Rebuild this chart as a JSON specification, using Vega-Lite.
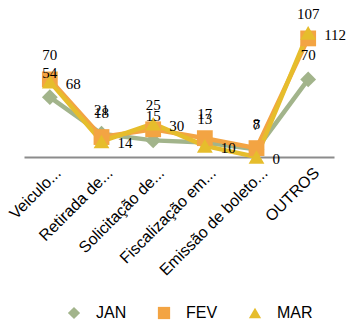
{
  "$schema": "https://vega.github.io/schema/vega-lite/v6.json",
  "autosize": "none",
  "width": 310,
  "height": 133,
  "padding": {"left": 24, "top": 24, "right": 12, "bottom": 167},
  "background": "white",
  "config": {"view": {"stroke": null}},
  "data": {
    "values": [
      {"cat": "Veiculo...", "serie": "JAN", "v": 54},
      {"cat": "Retirada de...", "serie": "JAN", "v": 21},
      {"cat": "Solicitação de...", "serie": "JAN", "v": 15},
      {"cat": "Fiscalização em...", "serie": "JAN", "v": 13},
      {"cat": "Emissão de boleto...", "serie": "JAN", "v": 7},
      {"cat": "OUTROS", "serie": "JAN", "v": 70},
      {"cat": "Veiculo...", "serie": "FEV", "v": 70},
      {"cat": "Retirada de...", "serie": "FEV", "v": 18},
      {"cat": "Solicitação de...", "serie": "FEV", "v": 25},
      {"cat": "Fiscalização em...", "serie": "FEV", "v": 17},
      {"cat": "Emissão de boleto...", "serie": "FEV", "v": 8},
      {"cat": "OUTROS", "serie": "FEV", "v": 107},
      {"cat": "Veiculo...", "serie": "MAR", "v": 68},
      {"cat": "Retirada de...", "serie": "MAR", "v": 14},
      {"cat": "Solicitação de...", "serie": "MAR", "v": 30},
      {"cat": "Fiscalização em...", "serie": "MAR", "v": 10},
      {"cat": "Emissão de boleto...", "serie": "MAR", "v": 0},
      {"cat": "OUTROS", "serie": "MAR", "v": 112}
    ]
  },
  "encoding": {
    "x": {
      "field": "cat",
      "type": "nominal",
      "sort": null,
      "scale": {"type": "point", "padding": 0.5},
      "axis": {
        "title": null,
        "domainColor": "#8c8c8c",
        "domainWidth": 2,
        "ticks": false,
        "labelAngle": -45,
        "labelAlign": "right",
        "labelBaseline": "middle",
        "labelFont": "Liberation Sans",
        "labelFontSize": 16,
        "labelColor": "#000000",
        "labelPadding": 13,
        "labelOffset": 8,
        "labelOverlap": false,
        "labelLimit": 300
      }
    },
    "y": {
      "field": "v",
      "type": "quantitative",
      "scale": {"domain": [0, 120], "nice": false, "zero": true},
      "axis": null
    },
    "color": {
      "field": "serie",
      "type": "nominal",
      "scale": {"domain": ["JAN", "FEV", "MAR"], "range": ["#a2b48b", "#f3a443", "#e6bd2c"]},
      "legend": {
        "title": null,
        "orient": "none",
        "legendX": 42,
        "legendY": 281,
        "direction": "horizontal",
        "columnPadding": 29,
        "labelFont": "Liberation Sans",
        "labelFontSize": 16,
        "labelColor": "#000000",
        "symbolSize": 150,
        "labelOffset": 14,
        "symbolStrokeWidth": 0,
        "symbolOpacity": 1
      }
    }
  },
  "layer": [
    {
      "mark": {"type": "line", "strokeWidth": 4.5},
      "encoding": {"detail": {"field": "serie"}}
    },
    {
      "mark": {"type": "point", "filled": true, "opacity": 1, "size": 250},
      "encoding": {
        "shape": {
          "field": "serie",
          "type": "nominal",
          "scale": {"domain": ["JAN", "FEV", "MAR"], "range": ["diamond", "square", "triangle-up"]},
          "legend": null
        }
      }
    },
    {
      "transform": [{"filter": "datum.serie !== 'MAR'"}],
      "mark": {"type": "text", "dy": -24, "font": "Liberation Serif", "fontSize": 15, "color": "#000000"},
      "encoding": {"text": {"field": "v", "type": "quantitative"}, "color": {"value": "#000000"}}
    },
    {
      "transform": [{"filter": "datum.serie === 'MAR'"}],
      "mark": {"type": "text", "dx": 16, "dy": 2, "align": "left", "font": "Liberation Serif", "fontSize": 15, "color": "#000000"},
      "encoding": {"text": {"field": "v", "type": "quantitative"}, "color": {"value": "#000000"}}
    }
  ]
}
